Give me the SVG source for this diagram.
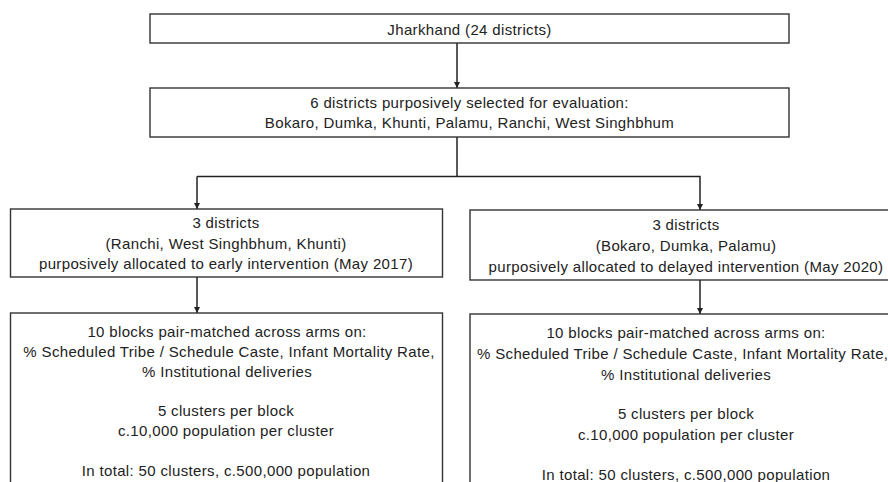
<svg xmlns="http://www.w3.org/2000/svg" width="888" height="482" viewBox="0 0 888 482">
<style>
.box{fill:#fff;stroke:#333;stroke-width:1.4}
.t{font-family:"Liberation Sans",Arial,Helvetica,sans-serif;font-size:15px;letter-spacing:0.35px;fill:#222;text-anchor:middle}
.c{fill:none;stroke:#222;stroke-width:1.5}
</style>
<defs>
<marker id="ah" viewBox="0 0 10 10" refX="10" refY="5" markerWidth="4" markerHeight="4" orient="auto" markerUnits="strokeWidth">
<path d="M0,0 L10,5 L0,10 z" fill="#222"/>
</marker>
</defs>
<rect width="888" height="482" fill="#fff"/>
<g id="connectors">
<line class="c" x1="457" y1="43" x2="457" y2="88" marker-end="url(#ah)"/>
<line class="c" x1="457" y1="137" x2="457" y2="176.5"/>
<polyline class="c" points="197,176.5 700,176.5 700,210" marker-end="url(#ah)"/>
<line class="c" x1="197" y1="176.5" x2="197" y2="209" marker-end="url(#ah)"/>
<line class="c" x1="197" y1="277" x2="197" y2="313" marker-end="url(#ah)"/>
<line class="c" x1="700" y1="280" x2="700" y2="314" marker-end="url(#ah)"/>
</g>
<g id="n1">
<rect class="box" x="150" y="14" width="639" height="29"/>
<text class="t" x="469.5" y="34.5">Jharkhand (24 districts)</text>
</g>
<g id="n2">
<rect class="box" x="150" y="88" width="639" height="49"/>
<text class="t" x="469.5" y="107.5">6 districts purposively selected for evaluation:</text>
<text class="t" x="469.5" y="128">Bokaro, Dumka, Khunti, Palamu, Ranchi, West Singhbhum</text>
</g>
<g id="n3">
<rect class="box" x="10.5" y="209" width="432" height="68"/>
<text class="t" x="226" y="228">3 districts</text>
<text class="t" x="226" y="248.5">(Ranchi, West Singhbhum, Khunti)</text>
<text class="t" x="226" y="268.5">purposively allocated to early intervention (May 2017)</text>
</g>
<g id="n4">
<rect class="box" x="470" y="210" width="432" height="70"/>
<text class="t" x="686" y="229.5">3 districts</text>
<text class="t" x="686" y="250.5">(Bokaro, Dumka, Palamu)</text>
<text class="t" x="686" y="271.5">purposively allocated to delayed intervention (May 2020)</text>
</g>
<g id="n5">
<rect class="box" x="10.5" y="313" width="432" height="180"/>
<text class="t" x="227" y="337">10 blocks pair-matched across arms on:</text>
<text class="t" x="229" y="357">% Scheduled Tribe / Schedule Caste, Infant Mortality Rate,</text>
<text class="t" x="227" y="377">% Institutional deliveries</text>
<text class="t" x="226" y="416">5 clusters per block</text>
<text class="t" x="226" y="436">c.10,000 population per cluster</text>
<text class="t" x="226" y="476">In total: 50 clusters, c.500,000 population</text>
</g>
<g id="n6">
<rect class="box" x="470" y="314" width="432" height="180"/>
<text class="t" x="686" y="338">10 blocks pair-matched across arms on:</text>
<text class="t" x="686" y="359" style="text-anchor:start" dx="-209">% Scheduled Tribe / Schedule Caste, Infant Mortality Rate,</text>
<text class="t" x="686" y="380">% Institutional deliveries</text>
<text class="t" x="686" y="419">5 clusters per block</text>
<text class="t" x="686" y="440">c.10,000 population per cluster</text>
<text class="t" x="686" y="480">In total: 50 clusters, c.500,000 population</text>
</g>
</svg>
